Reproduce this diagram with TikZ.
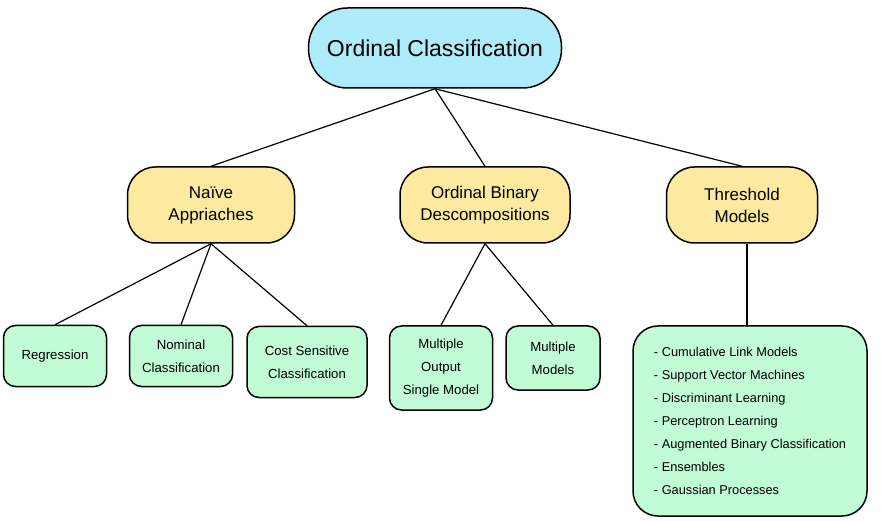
\documentclass[tikz,border=0pt]{standalone}
\usepackage{fontspec}
\setmainfont{Liberation Sans}
\definecolor{rootblue}{RGB}{174,236,252}
\definecolor{midyellow}{RGB}{253,233,160}
\definecolor{leafgreen}{RGB}{194,252,214}
\begin{document}
\begin{tikzpicture}[x=1pt, y=-1pt, line width=1.2pt,
  every node/.style = {shape=rectangle, draw, line width=1.5pt,
    align=center, inner sep=2pt},
  rootbox/.style = {fill=rootblue, rounded corners=39pt,
    minimum width=253pt, minimum height=80pt,
    font=\fontsize{23}{28}\selectfont},
  midbox/.style = {fill=midyellow, rounded corners=28pt,
    minimum height=76pt, font=\fontsize{17}{22}\selectfont},
  leafbox/.style = {fill=leafgreen, rounded corners=12pt,
    font=\fontsize{13.2}{23}\selectfont}]
  \useasboundingbox (0,0) rectangle (881,521);
  \node[rootbox] (root) at (435,48) {Ordinal Classification};
  % second level
  \node[midbox, minimum width=167pt] (naive) at (211,205) {Naïve\\Appriaches};
  \node[midbox, minimum width=170pt] (obd) at (485,205) {Ordinal Binary\\Descompositions};
  \node[midbox, minimum width=151pt] (thr) at (742,205) {Threshold\\Models};
  % leaves
  \node[leafbox, minimum width=103pt, minimum height=61pt] (regr) at (55,356) {Regression};
  \node[leafbox, minimum width=103pt, minimum height=61pt] (nomc) at (181,356) {Nominal\\Classification};
  \node[leafbox, minimum width=120pt, minimum height=71pt] (cost) at (307,362) {Cost Sensitive\\Classification};
  \node[leafbox, minimum width=103pt, minimum height=84pt] (mosm) at (441,368) {Multiple\\Output\\Single Model};
  \node[leafbox, minimum width=94pt, minimum height=64pt] (mmod) at (553,358) {Multiple\\Models};
  \node[leafbox, font=\fontsize{12.8}{23}\selectfont, rounded corners=25pt,
    align=left, minimum width=234pt, minimum height=190pt] (lst) at (750,421)
    {- Cumulative Link Models\\- Support Vector Machines\\- Discriminant Learning\\
     - Perceptron Learning\\- Augmented Binary Classification\\- Ensembles\\
     - Gaussian Processes};
  \foreach \a/\b in {root/naive, root/obd, root/thr, naive/regr, naive/nomc,
                     naive/cost, obd/mosm, obd/mmod}
    \draw (\a.south) -- (\b.north);
  \draw (lst.north -| 747,0) -- (thr.south -| 747,0);
\end{tikzpicture}
\end{document}
